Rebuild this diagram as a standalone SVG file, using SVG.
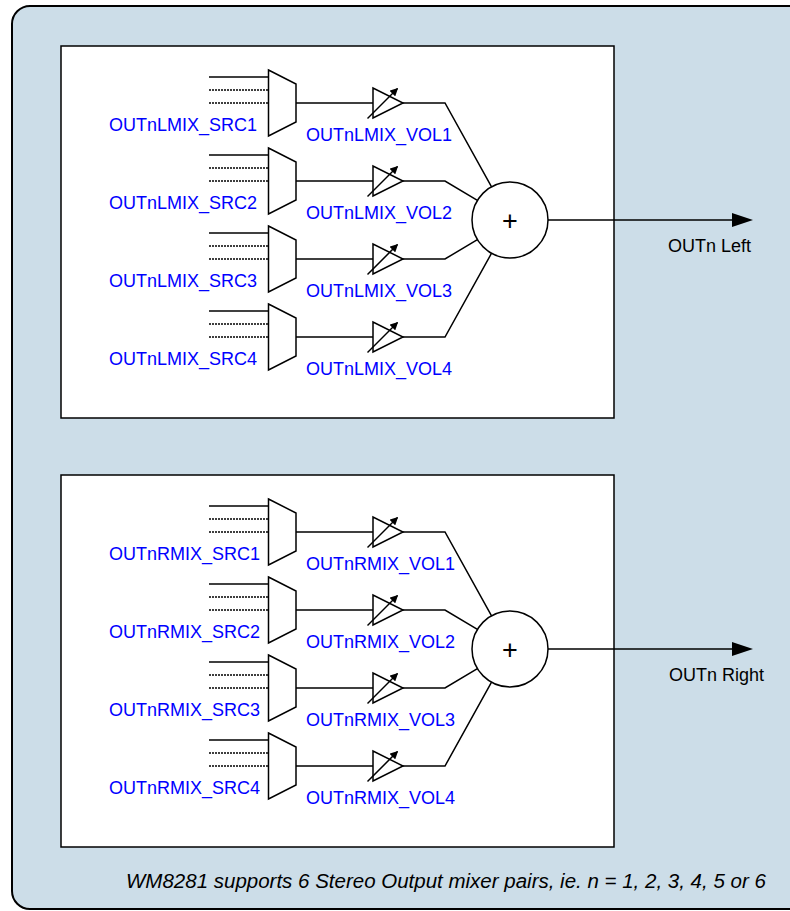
<svg xmlns="http://www.w3.org/2000/svg" xmlns:xlink="http://www.w3.org/1999/xlink" width="790" height="911" viewBox="0 0 790 911">
<style>
.ln{stroke:#000;stroke-width:1.5;fill:none}
.dot{stroke:#000;stroke-width:1.5;fill:none;stroke-dasharray:2,1}
.shape{stroke:#000;stroke-width:1.5;fill:#fff}
.lbl{font-family:"Liberation Sans",Arial,sans-serif;font-size:18px;fill:#0000ff}
.out{font-family:"Liberation Sans",Arial,sans-serif;font-size:18px;fill:#000}
.plus{font-family:"Liberation Sans",Arial,sans-serif;font-size:27px;fill:#000;text-anchor:middle}
.note{font-family:"Liberation Sans",Arial,sans-serif;font-size:20.5px;font-style:italic;fill:#000}
</style>
<defs>
<marker id="ah" viewBox="0 0 10 10" refX="9" refY="5" markerWidth="8" markerHeight="8" markerUnits="userSpaceOnUse" orient="auto">
<path d="M0,0 L10,5 L0,10 z" fill="#000"/>
</marker>
<g id="mux">
<line class="ln" x1="-59.5" y1="-26" x2="0" y2="-26"/>
<line class="dot" x1="-59.5" y1="-13" x2="0" y2="-13"/>
<line class="dot" x1="-59.5" y1="0" x2="0" y2="0"/>
<polygon class="shape" points="0,-33 27.5,-19 27.5,19 0,33"/>
</g>
<g id="amp">
<polygon class="shape" points="0,-15 0,15 30,0"/>
<line class="ln" x1="-5.5" y1="15.5" x2="24.5" y2="-14.5" marker-end="url(#ah)"/>
</g>
</defs>
<rect x="12" y="6" width="800" height="903" rx="18" ry="18" fill="#ccdde8" stroke="#000" stroke-width="2"/>
<g id="left-mixer">
<rect x="61" y="46" width="553" height="372" fill="#fff" stroke="#000" stroke-width="1.5"/>
<g id="L-src1"><use xlink:href="#mux" x="268.5" y="103"/><text class="lbl" x="109" y="131">OUTnLMIX_SRC1</text></g>
<g id="L-src2"><use xlink:href="#mux" x="268.5" y="181"/><text class="lbl" x="109" y="209">OUTnLMIX_SRC2</text></g>
<g id="L-src3"><use xlink:href="#mux" x="268.5" y="259"/><text class="lbl" x="109" y="287">OUTnLMIX_SRC3</text></g>
<g id="L-src4"><use xlink:href="#mux" x="268.5" y="337"/><text class="lbl" x="109" y="365">OUTnLMIX_SRC4</text></g>
<g id="L-vol1"><use xlink:href="#amp" x="373" y="103"/><text class="lbl" x="306" y="141">OUTnLMIX_VOL1</text></g>
<g id="L-vol2"><use xlink:href="#amp" x="373" y="181"/><text class="lbl" x="306" y="219">OUTnLMIX_VOL2</text></g>
<g id="L-vol3"><use xlink:href="#amp" x="373" y="259"/><text class="lbl" x="306" y="297">OUTnLMIX_VOL3</text></g>
<g id="L-vol4"><use xlink:href="#amp" x="373" y="337"/><text class="lbl" x="306" y="375">OUTnLMIX_VOL4</text></g>
<g id="L-sum"><circle class="shape" cx="510" cy="220" r="38"/><text class="plus" x="510" y="230">+</text></g>
<text id="L-out" class="out" x="668" y="252">OUTn Left</text>
</g>
<g id="right-mixer">
<rect x="61" y="475" width="553" height="372" fill="#fff" stroke="#000" stroke-width="1.5"/>
<g id="R-src1"><use xlink:href="#mux" x="268.5" y="532"/><text class="lbl" x="109" y="560">OUTnRMIX_SRC1</text></g>
<g id="R-src2"><use xlink:href="#mux" x="268.5" y="610"/><text class="lbl" x="109" y="638">OUTnRMIX_SRC2</text></g>
<g id="R-src3"><use xlink:href="#mux" x="268.5" y="688"/><text class="lbl" x="109" y="716">OUTnRMIX_SRC3</text></g>
<g id="R-src4"><use xlink:href="#mux" x="268.5" y="766"/><text class="lbl" x="109" y="794">OUTnRMIX_SRC4</text></g>
<g id="R-vol1"><use xlink:href="#amp" x="373" y="532"/><text class="lbl" x="306" y="570">OUTnRMIX_VOL1</text></g>
<g id="R-vol2"><use xlink:href="#amp" x="373" y="610"/><text class="lbl" x="306" y="648">OUTnRMIX_VOL2</text></g>
<g id="R-vol3"><use xlink:href="#amp" x="373" y="688"/><text class="lbl" x="306" y="726">OUTnRMIX_VOL3</text></g>
<g id="R-vol4"><use xlink:href="#amp" x="373" y="766"/><text class="lbl" x="306" y="804">OUTnRMIX_VOL4</text></g>
<g id="R-sum"><circle class="shape" cx="510" cy="649" r="38"/><text class="plus" x="510" y="659">+</text></g>
<text id="R-out" class="out" x="669" y="681">OUTn Right</text>
</g>
<g id="connectors">
<path class="ln" d="M296,103 H373 M403,103 H445 L491.55,186.78"/>
<path class="ln" d="M296,181 H373 M403,181 H445 L477.41,200.45"/>
<path class="ln" d="M296,259 H373 M403,259 H445 L477.41,239.55"/>
<path class="ln" d="M296,337 H373 M403,337 H445 L491.55,253.22"/>
<path class="ln" d="M548,220 H733"/>
<polygon points="732,213 753,220 732,227" fill="#000"/>
<path class="ln" d="M296,532 H373 M403,532 H445 L491.55,615.78"/>
<path class="ln" d="M296,610 H373 M403,610 H445 L477.41,629.45"/>
<path class="ln" d="M296,688 H373 M403,688 H445 L477.41,668.55"/>
<path class="ln" d="M296,766 H373 M403,766 H445 L491.55,682.22"/>
<path class="ln" d="M548,649 H733"/>
<polygon points="732,642 753,649 732,656" fill="#000"/>
</g>
<text id="note" class="note" x="126" y="888">WM8281 supports 6 Stereo Output mixer pairs, ie. n = 1, 2, 3, 4, 5 or 6</text>
</svg>
